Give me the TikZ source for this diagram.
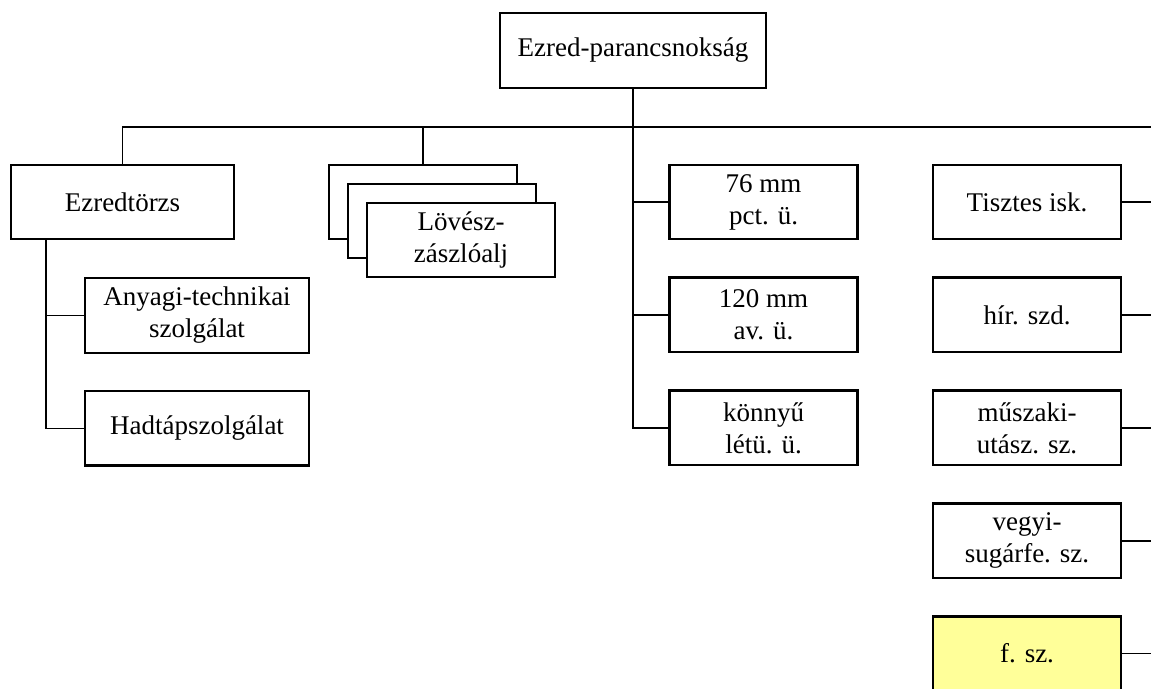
\documentclass[tikz,border=0pt]{standalone}
\usepackage{fontspec}
\setmainfont{Liberation Serif}
\usetikzlibrary{positioning}
\definecolor{fszyellow}{RGB}{255,255,153}

\begin{document}
\begin{tikzpicture}[x=1pt, y=-1pt, node distance=36pt,
    unit/.style={draw, line width=2.4pt, rectangle, fill=white, minimum width=188pt, minimum height=74.5pt,
      inner sep=0pt, align=center, font=\fontsize{27}{32}\selectfont},
    link/.style={line width=1.6pt}]
    \clip (0,0) rectangle (1151,688);

    % top
    \node[unit, minimum width=266pt] (parancs) at (633,50.5) {Ezred-parancsnokság};

    % left column
    \node[unit, minimum width=223pt] (torzs) at (122.5,202) {Ezredtörzs};
    \node[unit, minimum width=224pt] (anyagi) at (197,315.5) {Anyagi-technikai\\szolgálat};
    \node[unit, minimum width=224pt, below=of anyagi] (hadtap) {Hadtápszolgálat};

    % stacked battalions
    \node[unit] (lov1) at (423,202) {};
    \node[unit] (lov2) at ([xshift=19pt,yshift=-19pt]lov1.center) {};
    \node[unit] (lov3) at ([xshift=19pt,yshift=-19pt]lov2.center) {Lövész-\\zászlóalj};

    % middle column
    \node[unit] (pct) at (763.5,202) {76 mm\\pct. ü.};
    \node[unit, below=of pct] (av) {120 mm\\av. ü.};
    \node[unit, below=of av] (konnyu) {könnyű\\létü. ü.};

    % right column
    \node[unit] (tiszt) at (1027,202) {Tisztes isk.};
    \node[unit, below=of tiszt] (hir) {hír. szd.};
    \node[unit, below=of hir] (muszaki) {műszaki-\\utász. sz.};
    \node[unit, below=of muszaki] (vegyi) {vegyi-\\sugárfe. sz.};
    \node[unit, fill=fszyellow, below=of vegyi] (fsz) {f. sz.};

    \coordinate (busR) at (1151,127);
    \coordinate (tspine) at (46,0);
    \coordinate (rspine) at (1151,0);

    \draw[link] (torzs.north) |- (busR);
    \draw[link] (lov1.north) -- (lov1.north |- busR);
    \draw[link] (parancs.south) |- (konnyu.west);
    \draw[link] (parancs.south |- pct.west) -- (pct.west);
    \draw[link] (parancs.south |- av.west) -- (av.west);
    \draw[link] (tspine |- torzs.south) |- (hadtap.west);
    \draw[link] (tspine |- anyagi.west) -- (anyagi.west);
    \foreach \n in {tiszt, hir, muszaki, vegyi, fsz}
        \draw[link] (\n.east) -- (\n.east -| rspine);
\end{tikzpicture}
\end{document}
